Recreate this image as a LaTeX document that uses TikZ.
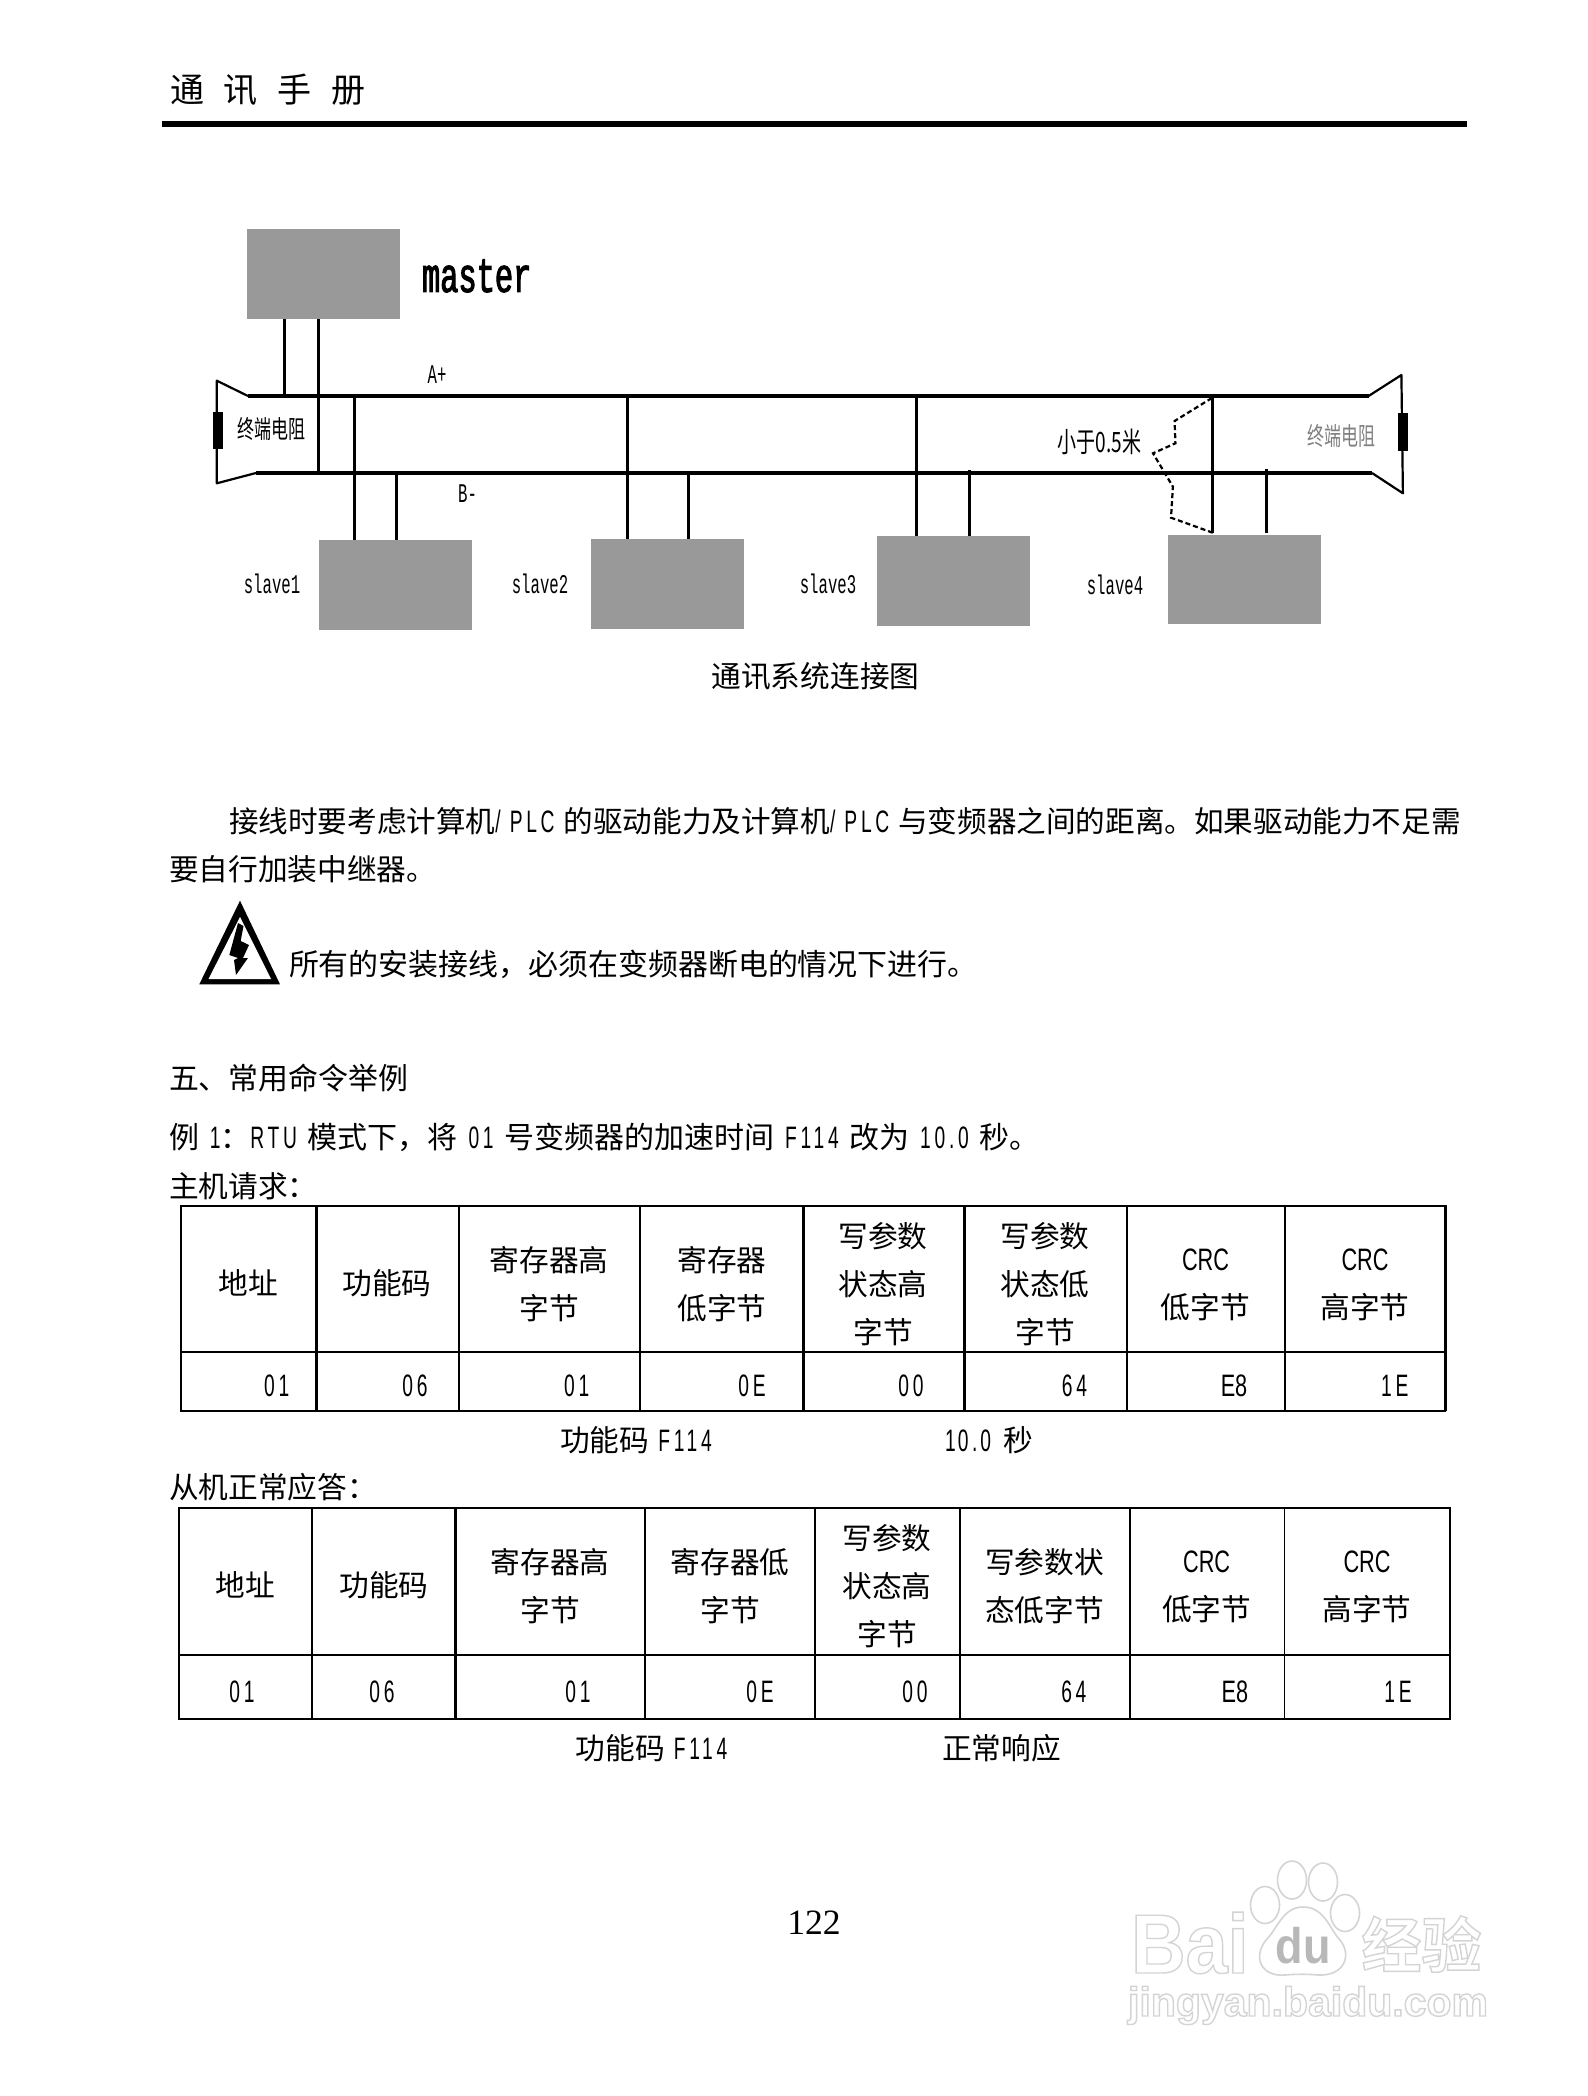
\documentclass[tikz,border=0pt]{standalone}
\usepackage{fontspec}
\setmainfont{Noto Sans CJK SC}
\newfontfamily\cnfont{Noto Sans CJK SC}
\newfontfamily\narrowsp[FakeStretch=0.62,LetterSpace=12]{Liberation Sans}
\newfontfamily\narrowti[FakeStretch=0.7]{Liberation Sans}
\newfontfamily\dgmono[FakeStretch=0.58]{Liberation Mono}
\newfontfamily\dgmonob[FakeStretch=0.62]{Liberation Mono}
\newfontfamily\dgcjk[FakeStretch=0.68]{Noto Sans CJK SC}
\newfontfamily\pagenum{Liberation Serif}
\newfontfamily\wmlat[FakeStretch=0.9]{Liberation Sans Bold}
\newfontfamily\wmurl{Liberation Sans Bold}
\newfontfamily\wmcjk{Noto Sans CJK SC Bold}
\newcommand{\nr}[1]{{\narrowsp\fontsize{15.5}{24}\selectfont #1}}
\newcommand{\nt}[1]{{\narrowti\fontsize{15.5}{24}\selectfont #1}}
\newcommand{\sk}{\kern0.85pt}
\newcommand{\outl}[1]{\special{pdf:code 1 Tr 0.7 w}#1\special{pdf:code 0 Tr}}
\newcommand{\heavy}[1]{\special{pdf:code 2 Tr 0.5 w}#1\special{pdf:code 0 Tr}}
\definecolor{boxgray}{HTML}{999999}
\definecolor{wmgray}{HTML}{D4D4D4}
\tikzset{
  txt/.style={inner sep=0pt,outer sep=0pt,align=center,font=\cnfont\fontsize{14.85}{24}\selectfont},
  ltxt/.style={txt,anchor=west},
  diag/.style={inner sep=0pt,outer sep=0pt,font=\dgmono\fontsize{13.5}{16}\selectfont},
  dcjk/.style={inner sep=0pt,outer sep=0pt,font=\dgcjk\fontsize{12.5}{16}\selectfont},
  gbox/.style={fill=boxgray,inner sep=0pt,outer sep=0pt,minimum width=76.5pt,minimum height=44.8pt},
  wire/.style={line width=1.5pt,black},
  bus/.style={line width=1.6pt,black},
  flare/.style={line width=1.1pt,black,line join=round},
  dashwire/.style={line width=1.1pt,black,dash pattern=on 2.5pt off 1.5pt},
  tline/.style={line width=1.2pt,black},
  wm/.style={inner sep=0pt,outer sep=0pt,text=wmgray},
  wmline/.style={line width=0.8pt,draw=wmgray,fill=white},
}
\begin{document}
\begin{tikzpicture}[x=0.5pt,y=-0.5pt]
\useasboundingbox[fill=white] (0,0) rectangle (1588,2096);

% header
\node[txt,anchor=west,font=\cnfont\fontsize{17}{20}\selectfont] (head) at (170,90) {通\kern10pt 讯\kern10pt 手\kern10pt 册};
\fill[black] (162,120.7) rectangle (1467,127.3);

% boxes
\node[gbox] (master) at (323.2,274.2) {};
\node[gbox] (slaveone) at (395.5,585.2) {};
\node[gbox] (slavetwo) at (667.6,583.9) {};
\node[gbox] (slavethree) at (953.2,581.3) {};
\node[gbox] (slavefour) at (1244,579.6) {};

% bus coordinates
\coordinate (aL) at (248,396);
\coordinate (aR) at (1368.6,396);
\coordinate (bL) at (256,473);
\coordinate (bR) at (1372,473);
\coordinate (ftl) at (216.8,380.7);
\coordinate (fbl) at (216.8,483.3);
\coordinate (ftr) at (1401.4,375);
\coordinate (fbr) at (1402.9,493.3);
\draw[bus] (aL) -- (aR);
\draw[bus] (bL) -- (bR);
\draw[flare] (aL) -- (ftl) -- (fbl) -- (bL);
\draw[flare] (aR) -- (ftr) -- (fbr) -- (bR);
\node[fill=black,inner sep=0pt,outer sep=0pt,minimum width=5pt,minimum height=18.7pt] (resl) at (217.7,430.3) {};
\node[fill=black,inner sep=0pt,outer sep=0pt,minimum width=5pt,minimum height=18.7pt] (resr) at (1402.7,432) {};

% wires
\coordinate (ma) at (284.6,396);
\coordinate (mb) at (318.6,473);
\draw[wire] (ma |- master.south) -- (ma);
\draw[wire] (mb |- master.south) -- (mb);
\coordinate (sa1) at (354.3,396);
\coordinate (sb1) at (396.7,471);
\draw[wire] (sa1) -- (sa1 |- slaveone.north);
\draw[wire] (sb1) -- (sb1 |- slaveone.north);
\coordinate (sa2) at (627,396);
\coordinate (sb2) at (688.7,471);
\draw[wire] (sa2) -- (sa2 |- slavetwo.north);
\draw[wire] (sb2) -- (sb2 |- slavetwo.north);
\coordinate (sa3) at (916.4,396);
\coordinate (sb3) at (969.3,470);
\draw[wire] (sa3) -- (sa3 |- slavethree.north);
\draw[wire] (sb3) -- (sb3 |- slavethree.north);
\coordinate (sa4) at (1212.9,396);
\coordinate (sb4) at (1266.4,469.3);
\draw[wire] (sa4) -- ([yshift=1pt]sa4 |- slavefour.north);
\draw[wire] (sb4) -- ([yshift=1pt]sb4 |- slavefour.north);

% dashed zigzag
\draw[dashwire] (sa4) ++(-1,2) -- (1174.6,421) -- (1175.4,443.3) -- (1153,453.3) -- (1172.9,486.7) -- (1171,517.7) -- ([yshift=1pt]sa4 |- slavefour.north);

% diagram labels
\node[diag,anchor=base west,font=\dgmonob\fontsize{24.5}{28}\selectfont] (lmaster) at (422,292) {\heavy{master}};
\node[diag,anchor=base] (lap) at (437,384) {A+};
\node[diag,anchor=base] (lbm) at (467.5,503) {B-};
\node[diag,anchor=base] (ls1) at (272,593) {slave1};
\node[diag,anchor=base] (ls2) at (540,593) {slave2};
\node[diag,anchor=base] (ls3) at (828,594) {slave3};
\node[diag,anchor=base] (ls4) at (1115,595) {slave4};
\node[dcjk] (rtl) at (271,429) {终端电阻};
\node[dcjk,text=black!50] (rtr) at (1341,436.5) {终端电阻};
\node[dcjk,font=\dgcjk\fontsize{14}{16}\selectfont] (lt05) at (1099.5,442) {小于0.5米};

% caption and paragraph
\node[txt] (cap) at (815.5,676) {通讯系统连接图};
\node[ltxt,font=\cnfont\fontsize{14.8}{24}\selectfont] (p1) at (229,821) {接线时要考虑计算机\nr{/ PLC }的驱动能力及计算机\nr{/ PLC }与变频器之间的距离。如果驱动能力不足需};
\node[ltxt] (p2) at (169,869) {要自行加装中继器。};

% warning triangle
\fill[black] (240,900.7) -- (199.3,984.3) -- (280,984.3) -- cycle;
\fill[white] (240,917) -- (208.5,979) -- (271,979) -- cycle;
\fill[black] (238,923) -- (229.3,955) -- (238,958) -- (234,960) -- (236,975) -- (248,958) -- (243,958) -- (249,945) -- (240.7,941) -- (243.5,926) -- cycle;
\node[ltxt,font=\cnfont\fontsize{14.97}{24}\selectfont] (warn) at (289,964) {所有的安装接线，必须在变频器断电的情况下进行。};

\node[ltxt,font=\cnfont\fontsize{14.95}{24}\selectfont] (sec) at (169,1078.5) {五、常用命令举例};
\node[ltxt,font=\cnfont\fontsize{15}{24}\selectfont] (ex1) at (169,1137.5) {例\nr{\sk{} 1}：\nr{RTU\sk{} }模式下，将\nr{\sk{} 01\sk{} }号变频器的加速时间\nr{\sk{} F114\sk{} }改为\nr{\sk{} 10.0\sk{} }秒。};
\node[ltxt] (req) at (169,1186) {主机请求：};

% table 1 grid
\foreach \xx in {181,316.3,459,640,803.3,964.3,1127,1285.2,1445.6}
  \draw[tline] (\xx,1205.4) -- (\xx,1411.3);
\draw[tline] (180.4,1206) -- (1446.2,1206);
\draw[tline] (180.4,1352) -- (1446.2,1352);
\draw[tline] (180.4,1410.7) -- (1446.2,1410.7);

% table 1 text
\node[txt] (ah1) at (248.6,1283) {地址};
\node[txt] (ah2) at (387,1283) {功能码};
\node[txt] (ah3) at (549,1284.5) {寄存器高\\字节};
\node[txt] (ah4) at (722,1284.5) {寄存器\\低字节};
\node[txt] (ah5) at (883,1284) {写参数\\状态高\\字节};
\node[txt] (ah6) at (1045,1284) {写参数\\状态低\\字节};
\node[txt] (ah7) at (1205.5,1285) {\nt{CRC}\\低字节};
\node[txt] (ah8) at (1365,1285) {\nt{CRC}\\高字节};
\node[txt] (av1) at (276.7,1386) {\nr{01}};
\node[txt] (av2) at (415,1386) {\nr{06}};
\node[txt] (av3) at (576.7,1386) {\nr{01}};
\node[txt] (av4) at (752,1386) {\nr{0E}};
\node[txt] (av5) at (911,1386) {\nr{00}};
\node[txt] (av6) at (1074.4,1386) {\nr{64}};
\node[txt] (av7) at (1234,1386) {\nt{E8}};
\node[txt] (av8) at (1394.7,1386) {\nr{1E}};
\node[txt] (an1) at (636,1440) {功能码\nr{ F114}};
\node[txt] (an2) at (989,1440) {\nr{1\kern1pt 0.\kern1.5pt 0\kern1.5pt{} }秒};

\node[ltxt] (resp) at (169,1487.5) {从机正常应答：};

% table 2 grid
\foreach \xx in {178.8,311.8,455.5,644.8,815,960,1130}
  \draw[tline] (\xx,1507.7) -- (\xx,1719.3);
\draw[line width=0.7pt] (1284.5,1507.7) -- (1284.5,1719.3);
\draw[tline] (1450,1507.7) -- (1450,1719.3);
\draw[line width=0.9pt] (178.2,1508.3) -- (1450.6,1508.3);
\draw[tline] (178.2,1654.7) -- (1450.6,1654.7);
\draw[tline] (178.2,1718.7) -- (1450.6,1718.7);

% table 2 text
\node[txt] (bh1) at (245,1585) {地址};
\node[txt] (bh2) at (384,1585) {功能码};
\node[txt] (bh3) at (550,1586) {寄存器高\\字节};
\node[txt] (bh4) at (730,1586) {寄存器低\\字节};
\node[txt] (bh5) at (887,1586) {写参数\\状态高\\字节};
\node[txt] (bh6) at (1044.5,1586) {写参数状\\态低字节};
\node[txt] (bh7) at (1206.6,1587) {\nt{CRC}\\低字节};
\node[txt] (bh8) at (1367,1587) {\nt{CRC}\\高字节};
\node[txt] (bv1) at (242,1692) {\nr{01}};
\node[txt] (bv2) at (382,1692) {\nr{06}};
\node[txt] (bv3) at (578,1692) {\nr{01}};
\node[txt] (bv4) at (760,1692) {\nr{0E}};
\node[txt] (bv5) at (915,1692) {\nr{00}};
\node[txt] (bv6) at (1073.8,1692) {\nr{64}};
\node[txt] (bv7) at (1235,1692) {\nt{E8}};
\node[txt] (bv8) at (1398,1692) {\nr{1E}};
\node[txt] (bn1) at (651.5,1748) {功能码\nr{ F114}};
\node[txt] (bn2) at (1001.4,1748) {正常响应};

% page number
\node[inner sep=0pt,outer sep=0pt,font=\pagenum\fontsize{17.8}{20}\selectfont] (pg) at (814,1923) {122};

% watermark
\draw[wmline] (1265,1905) ellipse (14.5 and 18.5);
\draw[wmline] (1292,1880) ellipse (14.5 and 19);
\draw[wmline] (1323,1882) ellipse (14.5 and 19);
\draw[wmline] (1345,1913) ellipse (14.5 and 18.5);
\draw[wmline] (1303,1907) .. controls (1325,1907) and (1330,1930) .. (1340,1940) .. controls (1352,1955) and (1345,1976) .. (1318,1975) .. controls (1308,1974) and (1296,1974) .. (1285,1975) .. controls (1262,1977) and (1252,1958) .. (1266,1940) .. controls (1278,1928) and (1283,1907) .. (1303,1907) -- cycle;
\node[wm,font=\wmlat\fontsize{42}{44}\selectfont,anchor=base west] (wmb) at (1131,1973) {\outl{Bai}};
\node[wm,font=\wmlat\fontsize{25}{28}\selectfont,text=black!28,anchor=base] (wmd) at (1303,1963) {du};
\node[wm,font=\wmcjk\fontsize{30}{32}\selectfont,anchor=center] (wmj) at (1421.5,1944) {\outl{经验}};
\node[wm,font=\wmurl\fontsize{20.5}{24}\selectfont,anchor=base] (wmu) at (1308,2016) {\outl{jingyan.baidu.com}};
\end{tikzpicture}
\end{document}
